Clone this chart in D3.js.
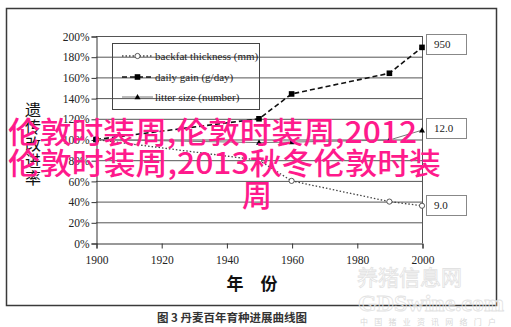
<!DOCTYPE html>
<html>
<head>
<meta charset="utf-8">
<script src="https://cdn.jsdelivr.net/npm/d3@7/dist/d3.min.js"></script>
<style>
  html, body { margin: 0; padding: 0; background: #fff; }
  svg { display: block; }
</style>
</head>
<body>
<div id="chart"></div>
<script>
// data
let years = [1900, 1950, 1960, 1990, 2000];
let backfat = [100, 80, 60, 40, 36];
let dailyGain = [100, 120, 144, 164, 189];
let litterSize = [100, 97, 97.5, 99.5, 109];

let seriesNames = ['backfat thickness (mm)', 'daily gain (g/day)', 'litter size (number)'];
let endLabels = ['9.0', '950', '12.0'];
let xTicks = [1900, 1920, 1940, 1960, 1980, 2000];
let yTicks = [0, 20, 40, 60, 80, 100, 120, 140, 160, 180, 200];

let yTitle = ['遗', '传', '改', '进', '率'];
let overlayLines = ['伦敦时装周,伦敦时装周,2012', '伦敦时装周,2013秋冬伦敦时装', '周'];

let width = 511,
    height = 327;

let serif = '"Liberation Serif", "DejaVu Serif", serif';
let cjk = '"Noto Sans CJK SC", sans-serif';

let $svg = d3.select('#chart').append('svg')
  .attr('width', width)
  .attr('height', height);

// outer frame
$svg.append('rect')
  .attr('x', 6.5).attr('y', 8.5)
  .attr('width', 490).attr('height', 297)
  .attr('fill', 'none')
  .attr('stroke', '#3a3a3a')
  .attr('stroke-width', 1.5);

let x = d3.scaleLinear().domain([1900, 2000]).range([96, 422]);
let y = d3.scaleLinear().domain([0, 200]).range([243, 36]);

// gridlines
$svg.append('g')
  .selectAll('line')
  .data(yTicks.filter(d => d > 0))
  .enter()
  .append('line')
  .attr('x1', x(1900)).attr('x2', x(2000))
  .attr('y1', d => y(d) + 0.5).attr('y2', d => y(d) + 0.5)
  .attr('stroke', '#555')
  .attr('stroke-width', 1);

// right edge of the plot
$svg.append('line')
  .attr('x1', x(2000) + 0.5).attr('x2', x(2000) + 0.5)
  .attr('y1', y(200)).attr('y2', y(0))
  .attr('stroke', '#555');

let $yAxis = $svg.append('g')
  .attr('transform', `translate(${x(1900) + 0.5},0.5)`)
  .call(d3.axisLeft(y).tickValues(yTicks).tickSize(5).tickPadding(2).tickFormat(d => d + '%'));

let $xAxis = $svg.append('g')
  .attr('transform', `translate(0.5,${y(0) + 0.5})`)
  .call(d3.axisBottom(x).tickValues(xTicks).tickSize(5).tickPadding(7).tickFormat(d3.format('d')));

[$yAxis, $xAxis].forEach($a => {
  $a.select('.domain').attr('stroke', '#333');
  $a.selectAll('.tick line').attr('stroke', '#333');
  $a.selectAll('.tick text')
    .attr('fill', '#222')
    .style('font-family', serif)
    .style('font-size', '11.5px');
});

// legend box (transparent, gridlines show through)
$svg.append('rect')
  .attr('x', 112.5).attr('y', 43.5)
  .attr('width', 147).attr('height', 66)
  .attr('fill', 'none')
  .attr('stroke', '#444');

let styles = [
  { dash: '1.5,2', color: '#444', w: 1.3, marker: 'circle' },
  { dash: '5,3', color: '#111', w: 1.6, marker: 'square' },
  { dash: null, color: '#777', w: 1, marker: 'triangle' }
];
let allSeries = [backfat, dailyGain, litterSize];

function drawMarker($g, type, cx, cy) {
  if (type === 'circle') {
    $g.append('circle').attr('cx', cx).attr('cy', cy).attr('r', 2.6)
      .attr('fill', '#fff').attr('stroke', '#444').attr('stroke-width', 0.9);
  } else if (type === 'square') {
    $g.append('rect').attr('x', cx - 2.8).attr('y', cy - 2.8).attr('width', 5.6).attr('height', 5.6)
      .attr('fill', '#000');
  } else {
    $g.append('path').attr('d', `M${cx},${cy - 3}L${cx + 3},${cy + 2.2}L${cx - 3},${cy + 2.2}Z`)
      .attr('fill', '#000');
  }
}

let line = d3.line()
  .x((d, i) => x(years[i]))
  .y(d => y(d));

allSeries.forEach((vals, k) => {
  let st = styles[k];
  let $g = $svg.append('g');
  $g.append('path')
    .attr('d', line(vals))
    .attr('fill', 'none')
    .attr('stroke', st.color)
    .attr('stroke-width', st.w)
    .attr('stroke-dasharray', st.dash);
  vals.forEach((v, i) => drawMarker($g, st.marker, x(years[i]), y(v)));

  // legend row
  let ly = [56, 77, 97][k];
  let $l = $svg.append('g');
  $l.append('line')
    .attr('x1', 122).attr('x2', 153)
    .attr('y1', ly).attr('y2', ly)
    .attr('stroke', st.color)
    .attr('stroke-width', st.w)
    .attr('stroke-dasharray', st.dash);
  drawMarker($l, st.marker, 137.5, ly);
  $l.append('text')
    .attr('x', 155).attr('y', ly + 3.5)
    .style('font-family', serif)
    .style('font-size', '11px')
    .attr('fill', '#222')
    .text(seriesNames[k]);

  // end label box
  let by = y(vals[vals.length - 1]);
  let boxY = k === 1 ? 34 : (k === 2 ? 118 : 195);
  $svg.append('rect')
    .attr('x', 426.5).attr('y', boxY + 0.5)
    .attr('width', 40).attr('height', 20)
    .attr('fill', '#fff')
    .attr('stroke', '#888');
  $svg.append('text')
    .attr('x', 434).attr('y', boxY + 14)
    .style('font-family', serif)
    .style('font-size', '11px')
    .attr('fill', '#222')
    .text(endLabels[k]);
});

// y axis title, one character per row
$svg.append('g')
  .selectAll('text')
  .data(yTitle)
  .enter()
  .append('text')
  .attr('x', 33)
  .attr('y', (d, i) => 116 + i * 17)
  .attr('text-anchor', 'middle')
  .style('font-family', cjk)
  .style('font-size', '16px')
  .attr('fill', '#111')
  .text(d => d);

// x axis title
$svg.append('text')
  .attr('x', 252).attr('y', 290)
  .attr('text-anchor', 'middle')
  .style('font-family', cjk)
  .style('font-size', '17px')
  .style('font-weight', 'bold')
  .attr('fill', '#111')
  .text('年　份');

// caption
$svg.append('text')
  .attr('x', 232).attr('y', 322)
  .attr('text-anchor', 'middle')
  .style('font-family', cjk)
  .style('font-size', '11.5px')
  .style('font-weight', 'bold')
  .attr('fill', '#333')
  .text('图 3  丹麦百年育种进展曲线图');

// faint site watermark, bottom right
let $wm = $svg.append('g').attr('fill', 'none').attr('stroke', '#e2e2e2').attr('stroke-width', 0.8);
$wm.append('text').attr('x', 357).attr('y', 285)
  .style('font-family', cjk).style('font-size', '21px').text('养猪信息网');
$wm.append('text').attr('x', 358).attr('y', 311)
  .style('font-family', serif).style('font-size', '24px').style('font-weight', 'bold').text('GDSwine.com');
$svg.append('text').attr('x', 360).attr('y', 325)
  .attr('fill', '#d8d8d8')
  .attr('textLength', 136)
  .style('font-family', cjk).style('font-size', '8px').text('中国猪业资讯网络门户');

// pink overlay text
let overlayX = [8, 8, 242];
let overlayY = [143, 174, 206];
let overlayLen = [409, 433, null];
$svg.append('g')
  .selectAll('text')
  .data(overlayLines)
  .enter()
  .append('text')
  .attr('x', (d, i) => overlayX[i])
  .attr('y', (d, i) => overlayY[i])
  .attr('textLength', (d, i) => overlayLen[i])
  .attr('lengthAdjust', 'spacingAndGlyphs')
  .style('font-family', cjk)
  .style('font-size', '30px')
  .style('font-weight', '500')
  .attr('fill', '#ff1a8c')
  .text(d => d);
</script>
</body>
</html>
